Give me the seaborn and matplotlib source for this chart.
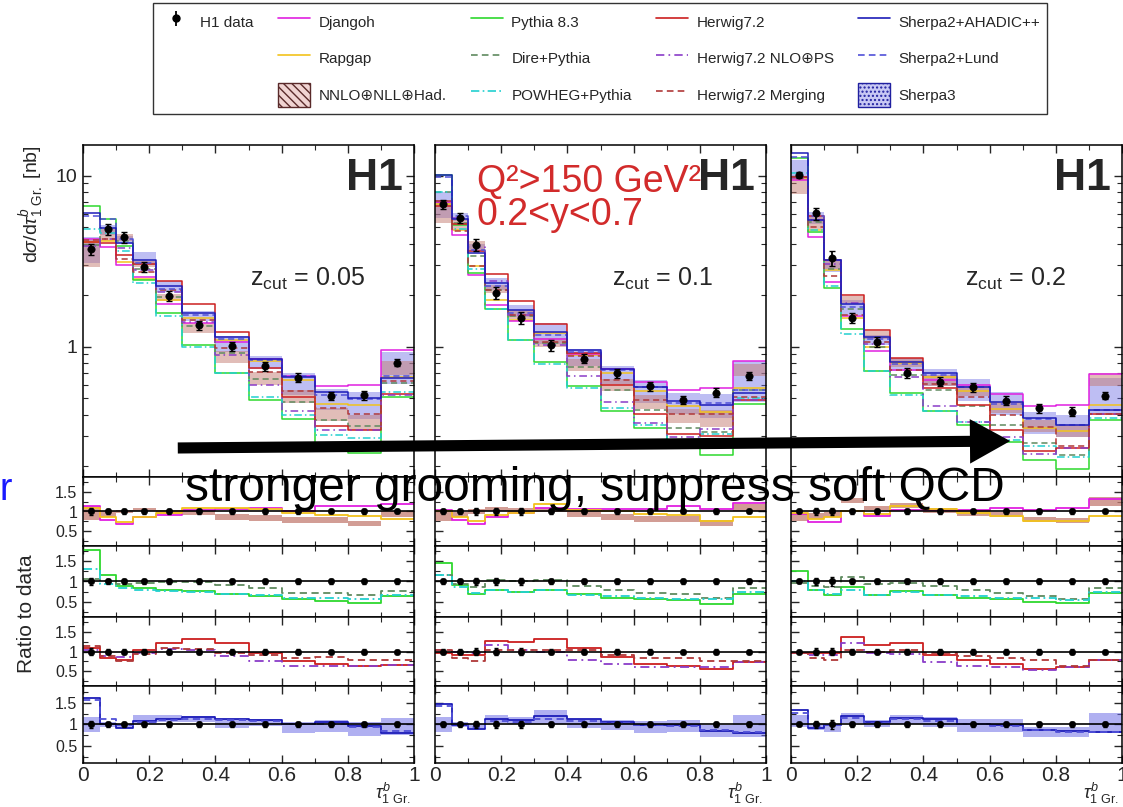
import matplotlib
matplotlib.use("Agg")
import matplotlib.pyplot as plt
import seaborn as sns
import pandas as pd
from matplotlib.lines import Line2D
from matplotlib.patches import Patch, FancyArrowPatch
from matplotlib.ticker import FixedLocator, FixedFormatter, NullFormatter, MultipleLocator, LogLocator

# ---------------- data ----------------
bin_edges = [0, 0.05, 0.1, 0.15, 0.22, 0.3, 0.4, 0.5, 0.6, 0.7, 0.8, 0.9, 1.0]
bin_centers = [0.025, 0.075, 0.125, 0.185, 0.26, 0.35, 0.45, 0.55, 0.65, 0.75, 0.85, 0.95]
zcut_labels = ["0.05", "0.1", "0.2"]

# H1 data cross sections [nb]
h1_z005 = [3.71, 4.86, 4.36, 2.94, 1.98, 1.34, 1.01, 0.77, 0.66, 0.515, 0.52, 0.806]
h1_z01 = [6.83, 5.68, 3.93, 2.07, 1.48, 1.02, 0.851, 0.698, 0.589, 0.488, 0.538, 0.673]
h1_z02 = [10.1, 6.02, 3.29, 1.48, 1.07, 0.705, 0.624, 0.578, 0.483, 0.436, 0.417, 0.517]
# relative uncertainties of the data
h1err_z005 = [0.08, 0.07, 0.07, 0.07, 0.07, 0.06, 0.06, 0.06, 0.06, 0.05, 0.06, 0.05]
h1err_z01 = [0.06, 0.07, 0.08, 0.08, 0.08, 0.07, 0.06, 0.06, 0.06, 0.05, 0.06, 0.05]
h1err_z02 = [0.04, 0.08, 0.10, 0.07, 0.07, 0.07, 0.06, 0.06, 0.06, 0.06, 0.06, 0.05]

# predictions, as ratio to data
djangoh_z005 = [1.15, 0.79, 0.69, 0.87, 0.90, 1.03, 1.06, 1.10, 1.02, 1.15, 1.15, 1.18]
rapgap_z005 = [1.10, 0.85, 0.72, 0.85, 0.95, 1.10, 1.08, 1.07, 0.97, 0.90, 0.88, 0.82]
nnlo_lo_z005 = [0.79, 0.85, 0.95, 1.00, 0.93, 0.90, 0.79, 0.77, 0.71, 0.71, 0.63, 0.85]
nnlo_hi_z005 = [1.14, 1.00, 1.05, 1.08, 1.03, 1.02, 0.94, 0.92, 0.85, 0.85, 0.77, 1.02]
pythia_z005 = [1.79, 1.15, 0.89, 0.83, 0.79, 0.76, 0.69, 0.63, 0.57, 0.52, 0.46, 0.63]
dire_z005 = [1.06, 1.02, 0.95, 0.97, 0.99, 0.99, 0.91, 0.84, 0.72, 0.72, 0.66, 0.76]
powheg_z005 = [1.32, 0.95, 0.83, 0.80, 0.76, 0.74, 0.69, 0.66, 0.60, 0.59, 0.56, 0.67]
herwig_z005 = [1.10, 0.83, 0.79, 1.03, 1.22, 1.33, 1.21, 0.97, 0.77, 0.67, 0.63, 0.66]
herwignlo_z005 = [1.04, 0.88, 0.86, 0.96, 1.06, 1.04, 0.88, 0.77, 0.64, 0.63, 0.63, 0.65]
herwigmerg_z005 = [1.14, 0.88, 0.75, 0.93, 1.08, 1.07, 0.97, 0.92, 0.83, 0.85, 0.78, 0.78]
sherpa2a_z005 = [1.63, 1.01, 0.92, 1.09, 1.14, 1.17, 1.13, 1.10, 1.01, 1.05, 0.97, 0.81]
sherpa2l_z005 = [1.57, 1.14, 0.98, 1.05, 1.10, 1.14, 1.10, 1.08, 1.02, 1.01, 0.95, 0.84]
sherpa3_lo_z005 = [0.83, 0.93, 0.91, 1.02, 1.06, 1.06, 0.92, 0.96, 0.79, 0.83, 0.73, 0.75]
sherpa3_hi_z005 = [1.18, 1.06, 1.02, 1.22, 1.22, 1.20, 1.14, 1.14, 1.06, 1.10, 1.05, 1.16]

djangoh_z01 = [1.03, 0.79, 0.67, 0.85, 0.95, 1.08, 1.06, 1.06, 1.06, 1.14, 1.07, 1.22]
rapgap_z01 = [1.00, 0.85, 0.75, 0.90, 0.97, 1.18, 1.05, 1.00, 0.93, 0.92, 0.77, 0.85]
nnlo_lo_z01 = [0.77, 0.85, 0.93, 1.00, 0.98, 0.98, 0.85, 0.79, 0.73, 0.73, 0.63, 1.00]
nnlo_hi_z01 = [1.03, 0.98, 1.06, 1.11, 1.10, 1.10, 1.00, 0.93, 0.89, 0.89, 0.79, 1.18]
pythia_z01 = [1.47, 0.91, 0.69, 0.80, 0.74, 0.80, 0.69, 0.60, 0.57, 0.54, 0.43, 0.69]
dire_z01 = [1.17, 0.93, 0.86, 1.03, 1.02, 1.03, 0.89, 0.80, 0.72, 0.69, 0.59, 0.83]
powheg_z01 = [1.17, 0.86, 0.72, 0.80, 0.74, 0.78, 0.67, 0.63, 0.59, 0.57, 0.57, 0.74]
herwig_z01 = [0.97, 0.92, 0.92, 1.28, 1.25, 1.33, 1.08, 0.86, 0.69, 0.63, 0.56, 0.72]
herwignlo_z01 = [1.04, 1.00, 0.97, 1.17, 1.04, 1.00, 0.79, 0.68, 0.61, 0.61, 0.61, 0.72]
herwigmerg_z01 = [1.04, 0.83, 0.75, 1.04, 1.04, 1.04, 1.04, 0.92, 0.83, 0.83, 0.75, 0.75]
sherpa2a_z01 = [1.47, 0.98, 0.90, 1.14, 1.10, 1.20, 1.12, 1.06, 0.98, 0.98, 0.85, 0.80]
sherpa2l_z01 = [1.44, 1.02, 0.93, 1.09, 1.06, 1.14, 1.09, 1.04, 0.98, 0.96, 0.87, 0.83]
sherpa3_lo_z01 = [0.83, 0.95, 0.91, 1.04, 1.01, 1.02, 0.91, 0.87, 0.79, 0.83, 0.71, 0.71]
sherpa3_hi_z01 = [1.18, 1.06, 1.02, 1.22, 1.18, 1.34, 1.14, 1.10, 1.09, 1.10, 0.98, 1.22]

djangoh_z02 = [0.93, 0.73, 0.73, 1.02, 0.88, 1.03, 1.03, 1.03, 1.10, 1.03, 1.10, 1.33]
rapgap_z02 = [0.95, 0.80, 0.85, 1.00, 0.93, 1.14, 1.06, 0.95, 0.89, 0.77, 0.77, 0.88]
nnlo_lo_z02 = [0.77, 0.81, 0.87, 1.22, 1.03, 1.08, 0.95, 0.89, 0.85, 0.73, 0.71, 1.14]
nnlo_hi_z02 = [0.95, 0.95, 0.98, 1.34, 1.15, 1.22, 1.10, 1.02, 0.98, 0.85, 0.83, 1.36]
pythia_z02 = [1.26, 0.78, 0.67, 0.86, 0.67, 0.76, 0.67, 0.60, 0.57, 0.50, 0.46, 0.72]
dire_z02 = [0.97, 0.89, 0.86, 1.12, 0.93, 0.97, 0.89, 0.78, 0.72, 0.63, 0.56, 0.83]
powheg_z02 = [1.02, 0.80, 0.69, 0.80, 0.67, 0.74, 0.67, 0.63, 0.59, 0.60, 0.54, 0.74]
herwig_z02 = [0.97, 0.97, 0.97, 1.36, 1.17, 1.22, 0.92, 0.79, 0.67, 0.56, 0.61, 0.78]
herwignlo_z02 = [0.96, 0.92, 0.92, 1.21, 0.97, 0.94, 0.72, 0.63, 0.61, 0.54, 0.61, 0.78]
herwigmerg_z02 = [0.97, 0.83, 0.79, 1.04, 1.00, 1.04, 0.97, 0.88, 0.83, 0.78, 0.63, 0.78]
sherpa2a_z02 = [1.35, 0.92, 0.98, 1.20, 1.06, 1.16, 1.12, 1.01, 0.98, 0.88, 0.84, 0.83]
sherpa2l_z02 = [1.27, 0.96, 0.98, 1.16, 1.04, 1.12, 1.09, 1.01, 0.96, 0.87, 0.83, 0.83]
sherpa3_lo_z02 = [0.95, 0.87, 0.83, 1.04, 0.95, 1.02, 0.95, 0.83, 0.83, 0.71, 0.71, 0.79]
sherpa3_hi_z02 = [1.22, 1.02, 0.98, 1.26, 1.10, 1.22, 1.18, 1.12, 1.12, 0.95, 0.95, 1.27]

# ---------------- styling ----------------
sns.set_style("ticks")
plt.rcParams["font.family"] = ["Liberation Sans", "DejaVu Sans"]
plt.rcParams["mathtext.fontset"] = "custom"
plt.rcParams["mathtext.rm"] = "Liberation Sans"
plt.rcParams["mathtext.it"] = "Liberation Sans:italic"
plt.rcParams["mathtext.bf"] = "Liberation Sans:bold"
plt.rcParams["axes.edgecolor"] = "black"
plt.rcParams["axes.linewidth"] = 1.1

styles = {
    "djangoh": dict(label="Djangoh", color="#e020e0", linestyle="-"),
    "rapgap": dict(label="Rapgap", color="#f2c21b", linestyle="-"),
    "pythia": dict(label="Pythia 8.3", color="#2ed82e", linestyle="-"),
    "dire": dict(label="Dire+Pythia", color="#5f8a5f", linestyle=(0, (4, 2.5))),
    "powheg": dict(label="POWHEG+Pythia", color="#22d0d0", linestyle=(0, (5, 2, 1, 2))),
    "herwig": dict(label="Herwig7.2", color="#cc1f1f", linestyle="-"),
    "herwignlo": dict(label="Herwig7.2 NLO\u2295PS", color="#8a3cc8", linestyle=(0, (5, 2.5, 1, 2.5))),
    "herwigmerg": dict(label="Herwig7.2 Merging", color="#b03838", linestyle=(0, (4, 2.5))),
    "sherpa2a": dict(label="Sherpa2+AHADIC++", color="#1c1cb8", linestyle="-"),
    "sherpa2l": dict(label="Sherpa2+Lund", color="#5050d8", linestyle=(0, (4, 2.5))),
}
nnlo_color = "#c47c72"
sherpa3_color = "#6f6fe6"

panels = [
    dict(h1=h1_z005, err=h1err_z005, djangoh=djangoh_z005, rapgap=rapgap_z005,
         nnlo=(nnlo_lo_z005, nnlo_hi_z005), pythia=pythia_z005, dire=dire_z005, powheg=powheg_z005,
         herwig=herwig_z005, herwignlo=herwignlo_z005, herwigmerg=herwigmerg_z005,
         sherpa2a=sherpa2a_z005, sherpa2l=sherpa2l_z005, sherpa3=(sherpa3_lo_z005, sherpa3_hi_z005)),
    dict(h1=h1_z01, err=h1err_z01, djangoh=djangoh_z01, rapgap=rapgap_z01,
         nnlo=(nnlo_lo_z01, nnlo_hi_z01), pythia=pythia_z01, dire=dire_z01, powheg=powheg_z01,
         herwig=herwig_z01, herwignlo=herwignlo_z01, herwigmerg=herwigmerg_z01,
         sherpa2a=sherpa2a_z01, sherpa2l=sherpa2l_z01, sherpa3=(sherpa3_lo_z01, sherpa3_hi_z01)),
    dict(h1=h1_z02, err=h1err_z02, djangoh=djangoh_z02, rapgap=rapgap_z02,
         nnlo=(nnlo_lo_z02, nnlo_hi_z02), pythia=pythia_z02, dire=dire_z02, powheg=powheg_z02,
         herwig=herwig_z02, herwignlo=herwignlo_z02, herwigmerg=herwigmerg_z02,
         sherpa2a=sherpa2a_z02, sherpa2l=sherpa2l_z02, sherpa3=(sherpa3_lo_z02, sherpa3_hi_z02)),
]

ratio_groups = [["djangoh", "rapgap"], ["pythia", "dire", "powheg"],
                ["herwig", "herwignlo", "herwigmerg"], ["sherpa2a", "sherpa2l"]]

W, H = 1123, 807
fig = plt.figure(figsize=(W / 100, H / 100), dpi=100)

col_left = [83, 435, 791]
col_w = 331
rows = [(145, 477), (477, 546), (546, 617), (617, 686), (686, 763)]


def add_ax(x0, y0, y1):
    return fig.add_axes([x0 / W, 1 - y1 / H, col_w / W, (y1 - y0) / H])


def stairs(ax, vals, key, lw=1.1):
    st = styles[key]
    df = pd.DataFrame({"x": bin_edges, "y": list(vals) + [vals[-1]]})
    sns.lineplot(data=df, x="x", y="y", ax=ax, drawstyle="steps-post", estimator=None,
                 sort=False, legend=False, color=st["color"], linestyle=st["linestyle"],
                 linewidth=lw)


def band(ax, lo, hi, color, alpha):
    ax.fill_between(bin_edges, list(lo) + [lo[-1]], list(hi) + [hi[-1]], step="post",
                    color=color, alpha=alpha, linewidth=0)


def style_x(ax, show_labels):
    ax.set_xlim(0, 1)
    ax.xaxis.set_major_locator(FixedLocator([0, 0.2, 0.4, 0.6, 0.8, 1.0]))
    ax.xaxis.set_minor_locator(MultipleLocator(0.1))
    if show_labels:
        ax.xaxis.set_major_formatter(FixedFormatter(["0", "0.2", "0.4", "0.6", "0.8", "1"]))
    else:
        ax.xaxis.set_major_formatter(NullFormatter())
    ax.tick_params(axis="both", which="both", direction="in", top=True, right=True,
                   labelsize=14, pad=4)
    ax.tick_params(which="major", length=6, width=1)
    ax.tick_params(which="minor", length=3.5, width=0.8)
    ax.set_xlabel("")
    ax.set_ylabel("")


h1_handle = None
for c, p in enumerate(panels):
    x0 = col_left[c]
    data = p["h1"]
    # ---- main panel ----
    ax = add_ax(x0, *rows[0])
    s_lo = [d * r for d, r in zip(data, p["sherpa3"][0])]
    s_hi = [d * r for d, r in zip(data, p["sherpa3"][1])]
    band(ax, s_lo, s_hi, sherpa3_color, 0.45)
    n_lo = [d * r for d, r in zip(data, p["nnlo"][0])]
    n_hi = [d * r for d, r in zip(data, p["nnlo"][1])]
    band(ax, n_lo, n_hi, nnlo_color, 0.5)
    for key in ["rapgap", "djangoh", "pythia", "dire", "powheg", "herwig", "herwignlo",
                "herwigmerg", "sherpa2l", "sherpa2a"]:
        stairs(ax, [d * r for d, r in zip(data, p[key])], key)
    ax.errorbar(bin_centers, data, yerr=[d * e for d, e in zip(data, p["err"])],
                fmt="none", ecolor="black", elinewidth=1.3, capsize=2, zorder=9)
    sns.scatterplot(x=bin_centers, y=data, ax=ax, color="black", s=28, edgecolor="black",
                    zorder=10, legend=False)
    if h1_handle is None:
        h1_handle = ax.errorbar([], [], yerr=[], fmt="o", color="black", ms=5, elinewidth=1.3)
    ax.set_yscale("log")
    ax.set_ylim(0.173, 15.1)
    style_x(ax, False)
    ax.yaxis.set_major_locator(FixedLocator([1, 10]))
    ax.yaxis.set_minor_locator(LogLocator(base=10, subs=[2, 3, 4, 5, 6, 7, 8, 9], numticks=10))
    ax.yaxis.set_minor_formatter(NullFormatter())
    if c == 0:
        ax.yaxis.set_major_formatter(FixedFormatter(["1", "10"]))
    else:
        ax.yaxis.set_major_formatter(NullFormatter())
    ax.text(0.965, 0.962, "H1", transform=ax.transAxes, ha="right", va="top",
            fontsize=32, fontweight="bold", zorder=12)
    zx = [0.505, 0.535, 0.525][c]
    ax.text(zx, 0.575, r"z$_{\rm cut}$ = " + zcut_labels[c], transform=ax.transAxes,
            ha="left", va="baseline", fontsize=18)

    # ---- ratio panels ----
    for g, group in enumerate(ratio_groups):
        rax = add_ax(x0, *rows[g + 1])
        if g == 0:
            band(rax, p["nnlo"][0], p["nnlo"][1], nnlo_color, 0.75)
        if g == 3:
            band(rax, p["sherpa3"][0], p["sherpa3"][1], sherpa3_color, 0.55)
        for key in group:
            stairs(rax, p[key], key, lw=1.3)
        rax.axhline(1.0, color="black", lw=1.2, zorder=5)
        rax.errorbar(bin_centers, [1.0] * 12, yerr=p["err"], fmt="none", ecolor="black",
                     elinewidth=1.3, capsize=1.5, zorder=9)
        sns.scatterplot(x=bin_centers, y=[1.0] * 12, ax=rax, color="black", s=22,
                        edgecolor="black", zorder=10, legend=False)
        rax.set_ylim((0.1, 1.9) if g == 3 else (0.12, 1.88))
        style_x(rax, g == 3)
        rax.yaxis.set_major_locator(FixedLocator([0.5, 1.0, 1.5]))
        rax.yaxis.set_minor_locator(MultipleLocator(0.25))
        if c == 0:
            rax.yaxis.set_major_formatter(FixedFormatter(["0.5", "1", "1.5"]))
            rax.tick_params(axis="y", labelsize=11.5)
        else:
            rax.yaxis.set_major_formatter(NullFormatter())
        rax.tick_params(axis="x", labelsize=15, pad=2)

    fig.text((x0 + col_w - 3) / W, 1 - 806 / H, r"$\tau^{b}_{1\ \mathrm{Gr.}}$",
             ha="right", va="bottom", fontsize=13)

# axis titles
fig.text(32 / W, 1 - 145 / H, r"d$\sigma$/d$\tau^{b}_{1\ \mathrm{Gr.}}$ [nb]", rotation=90,
         ha="center", va="top", fontsize=14)
fig.text(27 / W, 1 - 614 / H, "Ratio to data", rotation=90, ha="center", va="center",
         fontsize=15)

# legend
blank = Line2D([], [], alpha=0)
nnlo_patch = Patch(facecolor="#f0d4d2", edgecolor="#5a2a2a", hatch="\\\\\\\\", linewidth=1)
sherpa3_patch = Patch(facecolor="#c8c8f4", edgecolor="#2020a0", hatch="....", linewidth=1)


def lh(key):
    st = styles[key]
    return Line2D([], [], color=st["color"], linestyle=st["linestyle"], lw=1.2)


handles = [h1_handle, blank, blank,
           lh("djangoh"), lh("rapgap"), nnlo_patch,
           lh("pythia"), lh("dire"), lh("powheg"),
           lh("herwig"), lh("herwignlo"), lh("herwigmerg"),
           lh("sherpa2a"), lh("sherpa2l"), sherpa3_patch]
labels = ["H1 data", "", "",
          "Djangoh", "Rapgap", "NNLO\u2295NLL\u2295Had.",
          "Pythia 8.3", "Dire+Pythia", "POWHEG+Pythia",
          "Herwig7.2", "Herwig7.2 NLO\u2295PS", "Herwig7.2 Merging",
          "Sherpa2+AHADIC++", "Sherpa2+Lund", "Sherpa3"]
leg = fig.legend(handles, labels, ncol=5, loc="upper left", mode="expand",
                 bbox_to_anchor=(153 / W, 1 - 118 / H, 894 / W, 115 / H), fontsize=11,
                 frameon=True, fancybox=False, edgecolor="black", handlelength=2.1,
                 handleheight=2.0, labelspacing=0.85, columnspacing=1.3, handletextpad=0.55,
                 borderpad=0.45, borderaxespad=0)
leg.get_frame().set_linewidth(1.0)

# slide annotations
fig.text(477 / W, 1 - 192 / H, "Q\u00b2>150 GeV\u00b2", color="#d22b2b", fontsize=27,
         ha="left", va="baseline", zorder=20)
fig.text(477 / W, 1 - 225 / H, "0.2<y<0.7", color="#d22b2b", fontsize=27,
         ha="left", va="baseline", zorder=20)
arrow = FancyArrowPatch((175 / W, 1 - 448 / H), (1013 / W, 1 - 441 / H),
                        transform=fig.transFigure,
                        arrowstyle="simple,head_length=29,head_width=32,tail_width=8",
                        mutation_scale=1, color="black", lw=0, zorder=20)
fig.add_artist(arrow)
fig.text(185 / W, 1 - 501 / H, "stronger grooming, suppress soft QCD", color="black",
         fontsize=34.5, ha="left", va="baseline", zorder=21)
fig.text(0 / W, 1 - 500 / H, "r", color="#1a1aff", fontsize=27, ha="left",
         va="baseline", zorder=21)

fig.savefig("out.png", dpi=100)
